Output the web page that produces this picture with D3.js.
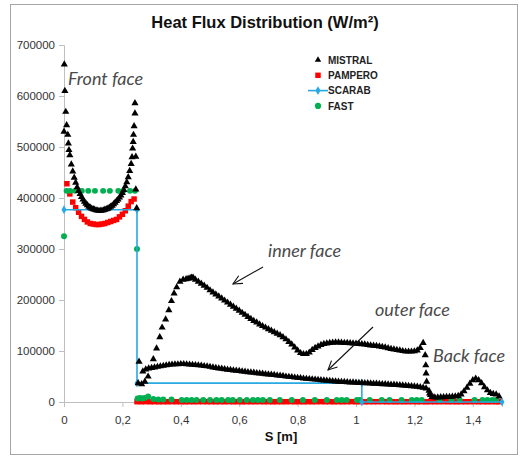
<!DOCTYPE html>
<html>
<head>
<meta charset="utf-8">
<script src="https://cdn.jsdelivr.net/npm/d3@7"></script>
<style>
  body { margin: 0; background: #fff; }
  svg { display: block; }
  .tick-label { font-family: "Liberation Sans", Arial, sans-serif; font-size: 11.5px; fill: #333; }
  .note { font-family: "Lato", "DejaVu Sans", sans-serif; font-style: italic; font-weight: 400; font-size: 18px; fill: #4a4a4a; }
  .legend-text { font-family: "Liberation Sans", Arial, sans-serif; font-size: 10px; font-weight: bold; fill: #222; }
</style>
</head>
<body>
<svg id="chart" width="520" height="457"></svg>
<script>
// MISTRAL, split by face  [S (m), heat flux (W/m2)]
const mistralFront = [
  [0.000, 530000], [0.001, 662000], [0.003, 610000], [0.006, 569000], [0.009, 543000],
  [0.013, 524000], [0.015, 507000], [0.017, 494000], [0.020, 484000], [0.025, 466000],
  [0.030, 452000], [0.035, 440000], [0.040, 430000], [0.045, 421000], [0.050, 414000],
  [0.055, 408000], [0.060, 402000], [0.065, 397000], [0.070, 393000], [0.075, 389000],
  [0.080, 386000], [0.085, 383000], [0.090, 381000], [0.095, 379000], [0.100, 378000],
  [0.105, 377000], [0.110, 376000], [0.115, 375500], [0.120, 375000], [0.125, 375000],
  [0.130, 375500], [0.135, 376000], [0.140, 377000], [0.145, 378000], [0.150, 379000],
  [0.155, 381000], [0.160, 383000], [0.165, 385000], [0.170, 388000], [0.175, 391000],
  [0.180, 394000], [0.185, 397000], [0.190, 401000], [0.195, 405000], [0.200, 410000],
  [0.205, 416000], [0.210, 423000], [0.215, 431000], [0.220, 441000], [0.225, 453000],
  [0.230, 467000], [0.233, 480000], [0.235, 497000], [0.237, 510000], [0.238, 524000],
  [0.240, 541000], [0.243, 566000], [0.243, 586000], [0.246, 481000], [0.246, 417000],
  [0.249, 380000]
];

const mistralInner = [
  [0.257, 79000], [0.254, 37000], [0.266, 35000], [0.277, 40000], [0.288, 50000],
  [0.306, 84000], [0.317, 105000], [0.328, 127000], [0.336, 146000], [0.348, 162000],
  [0.359, 180000], [0.368, 198000], [0.377, 213000], [0.386, 225000], [0.397, 236000],
  [0.408, 240000], [0.418, 241000], [0.425, 242000], [0.432, 243000], [0.437, 244000],
  [0.442, 244000], [0.45, 240000], [0.46, 236000], [0.47, 232000], [0.48, 228000],
  [0.49, 224000], [0.50, 219000], [0.51, 215000], [0.52, 211000], [0.53, 207000],
  [0.54, 203000], [0.55, 199000], [0.56, 195000], [0.57, 191000], [0.58, 187000],
  [0.59, 183000], [0.60, 179000], [0.61, 175000], [0.62, 171000], [0.63, 167000],
  [0.64, 163000], [0.65, 159000], [0.66, 156000], [0.67, 152000], [0.68, 149000],
  [0.69, 146000], [0.70, 143000], [0.71, 140000], [0.72, 137000], [0.73, 134000],
  [0.74, 131000], [0.75, 127000], [0.76, 123000], [0.77, 118000], [0.78, 113000],
  [0.79, 107000], [0.80, 101000], [0.81, 96000], [0.82, 94000], [0.83, 94000],
  [0.84, 97000], [0.85, 102000], [0.86, 106000], [0.87, 109000], [0.88, 112000],
  [0.89, 114000], [0.90, 115000], [0.91, 116000], [0.92, 116500], [0.93, 117000],
  [0.94, 117000], [0.95, 116500], [0.96, 116000], [0.97, 116000], [0.98, 115500],
  [0.99, 115000], [1.00, 114500], [1.01, 114000], [1.02, 113500], [1.03, 113000],
  [1.04, 112000], [1.05, 111000], [1.06, 110500], [1.07, 110000], [1.08, 109000],
  [1.09, 108000], [1.10, 107000], [1.11, 105500], [1.12, 104000], [1.13, 103000],
  [1.14, 102000], [1.15, 101000], [1.16, 100000], [1.17, 99000], [1.18, 99000],
  [1.19, 99000], [1.20, 99500], [1.21, 101000], [1.22, 106000], [1.23, 116000]
];

const mistralOuter = [
  [0.27, 60000], [0.28, 64000], [0.29, 66000], [0.30, 67000], [0.31, 68000],
  [0.32, 69000], [0.33, 70000], [0.34, 71000], [0.35, 72000], [0.36, 73000],
  [0.37, 73500], [0.38, 74000], [0.39, 74000], [0.40, 74500], [0.41, 74500],
  [0.42, 74000], [0.43, 73500], [0.44, 73000], [0.45, 72500], [0.46, 72000],
  [0.47, 71500], [0.48, 70500], [0.49, 70000], [0.50, 69000], [0.51, 68000],
  [0.52, 67000], [0.53, 66000], [0.54, 65500], [0.55, 64500], [0.56, 63500],
  [0.57, 63000], [0.58, 62000], [0.59, 61500], [0.60, 61000], [0.61, 60000],
  [0.62, 59500], [0.63, 58500], [0.64, 58000], [0.65, 57500], [0.66, 56500],
  [0.67, 56000], [0.68, 55500], [0.69, 54500], [0.70, 54000], [0.71, 53500],
  [0.72, 53000], [0.73, 52000], [0.74, 51500], [0.75, 51000], [0.76, 50000],
  [0.77, 49500], [0.78, 49000], [0.79, 48000], [0.80, 47500], [0.81, 47000],
  [0.82, 46000], [0.83, 45500], [0.84, 45000], [0.85, 44500], [0.86, 44000],
  [0.87, 43500], [0.88, 43000], [0.89, 42500], [0.90, 42000], [0.91, 41500],
  [0.92, 41000], [0.93, 40500], [0.94, 40000], [0.95, 39500], [0.96, 39500],
  [0.97, 39000], [0.98, 38500], [0.99, 38500], [1.00, 38000], [1.01, 37500],
  [1.02, 37500], [1.03, 37000], [1.04, 37000], [1.05, 36500], [1.06, 36000],
  [1.07, 36000], [1.08, 35500], [1.09, 35000], [1.10, 35000], [1.11, 34500],
  [1.12, 34000], [1.13, 34000], [1.14, 33500], [1.15, 33000], [1.16, 32500],
  [1.17, 32000], [1.18, 31500], [1.19, 31000], [1.20, 30500], [1.21, 30000],
  [1.22, 29000], [1.23, 28000], [1.24, 26500], [1.25, 22000], [1.255, 14000],
  [1.26, 10000]
];

const mistralBack = [
  [1.237, 92000], [1.239, 72000], [1.240, 56000], [1.242, 40000], [1.252, 17000],
  [1.263, 10000], [1.27, 9000], [1.28, 9000], [1.29, 9500], [1.30, 9500],
  [1.31, 10000], [1.32, 10000], [1.33, 10500], [1.34, 11000], [1.35, 12000],
  [1.36, 15000], [1.37, 21000], [1.38, 28000], [1.39, 36000], [1.40, 43000],
  [1.41, 46000], [1.42, 43000], [1.43, 37000], [1.44, 29000], [1.45, 23000],
  [1.46, 18000], [1.47, 16000], [1.48, 15000], [1.49, 11000]
];

const pampero = [
  [0.01, 428000], [0.02, 408000], [0.03, 392000], [0.04, 381000], [0.05, 372000],
  [0.06, 364000], [0.07, 358000], [0.08, 353000], [0.09, 350000], [0.10, 349000],
  [0.11, 348000], [0.12, 348000], [0.13, 349000], [0.14, 350000], [0.15, 352000],
  [0.16, 354000], [0.17, 356000], [0.18, 358000], [0.19, 363000], [0.20, 368000],
  [0.21, 375000], [0.22, 384000], [0.23, 393000], [0.24, 398000],
  [0.25, 600], [0.265, 500], [0.28, 700], [0.295, 500], [0.31, 600], [0.325, 400],
  [0.34, 600], [0.355, 500], [0.37, 700], [0.385, 500], [0.40, 600], [0.415, 400],
  [0.43, 600], [0.445, 500], [0.46, 600], [0.475, 700], [0.49, 500], [0.505, 600],
  [0.52, 400], [0.535, 600], [0.55, 500], [0.565, 700], [0.58, 500], [0.595, 600],
  [0.61, 400], [0.625, 600], [0.64, 500], [0.655, 600], [0.67, 700], [0.685, 500],
  [0.70, 600], [0.715, 400], [0.73, 600], [0.745, 500], [0.76, 600], [0.775, 700],
  [0.79, 500], [0.805, 600], [0.82, 400], [0.835, 600], [0.85, 500], [0.865, 600],
  [0.88, 700], [0.895, 500], [0.91, 600], [0.925, 400], [0.94, 600], [0.955, 500],
  [0.97, 600], [0.985, 700], [1.00, 500], [1.015, 600], [1.03, 400], [1.045, 600],
  [1.06, 500], [1.075, 600], [1.09, 700], [1.105, 500], [1.12, 600], [1.135, 400],
  [1.15, 600], [1.165, 500], [1.18, 600], [1.195, 700], [1.21, 500], [1.225, 600],
  [1.24, 400], [1.255, 600], [1.27, 500], [1.285, 600], [1.30, 700], [1.315, 500],
  [1.33, 600], [1.345, 400], [1.36, 600], [1.375, 500], [1.39, 600], [1.405, 700],
  [1.42, 500], [1.435, 600], [1.45, 400], [1.465, 600], [1.48, 500], [1.49, 600]
];

const scarab = [
  [0.00, 377000], [0.25, 377000], [0.25, 37000], [1.02, 37000], [1.02, 0], [1.50, 0]
];

const fast = [
  [0.000, 325000], [0.009, 414000], [0.021, 414000], [0.038, 414000], [0.061, 414000],
  [0.083, 414000], [0.106, 414000], [0.134, 414000], [0.157, 414000], [0.186, 414000],
  [0.203, 414000], [0.226, 414000], [0.243, 414000], [0.250, 300000],
  [0.252, 7000], [0.260, 8000], [0.268, 7000], [0.276, 8000], [0.288, 11000],
  [0.306, 6000], [0.323, 5000], [0.340, 5000], [0.368, 5000], [0.403, 4000],
  [0.420, 4000], [0.437, 4000], [0.454, 4000], [0.477, 4000], [0.500, 4000],
  [0.522, 4000], [0.540, 4000], [0.562, 4000], [0.578, 4000], [0.602, 4000],
  [0.626, 4000], [0.647, 4000], [0.664, 4000], [0.681, 4000], [0.705, 4000],
  [0.739, 4000], [0.780, 4000], [0.818, 4000], [0.859, 4000], [0.900, 4000],
  [0.934, 4000], [0.951, 4000], [0.968, 4000], [1.003, 4000], [1.013, 4000],
  [1.047, 4000], [1.088, 4000], [1.115, 4000], [1.156, 4000], [1.191, 4000],
  [1.208, 4000], [1.225, 4000], [1.286, 4000], [1.327, 4000], [1.355, 4000],
  [1.406, 4000], [1.433, 4000], [1.450, 4000], [1.467, 4000], [1.480, 4000]
];

const xTicks = [0, 0.2, 0.4, 0.6, 0.8, 1, 1.2, 1.4];
const yTicks = [0, 100000, 200000, 300000, 400000, 500000, 600000, 700000];
const legendNames = ["MISTRAL", "PAMPERO", "SCARAB", "FAST"];

const colors = { mistral: "#000", pampero: "#ff0000", scarab: "#29a9e1", fast: "#00b050" };

const svg = d3.select("#chart");

// outer frame
svg.append("rect")
    .attr("x", 10.5).attr("y", 4.5)
    .attr("width", 507).attr("height", 450)
    .attr("fill", "#fff")
    .attr("stroke", "#a6a6a6");

const x = d3.scaleLinear().domain([0, 1.5]).range([64, 502]);
const y = d3.scaleLinear().domain([0, 700000]).range([402, 45]);

const commaLocale = d3.formatLocale({ decimal: ",", thousands: "", grouping: [3], currency: ["", ""] });
const fmtX = commaLocale.format("~g");

const xAxis = svg.append("g")
    .attr("transform", "translate(0," + y(0) + ")")
    .call(d3.axisBottom(x).tickValues(xTicks).tickFormat(fmtX).tickSize(5).tickPadding(9));

const yAxis = svg.append("g")
    .attr("transform", "translate(" + x(0) + ",0)")
    .call(d3.axisLeft(y).tickValues(yTicks).tickFormat(d3.format("d")).tickSize(5).tickPadding(4));

[xAxis, yAxis].forEach(function(ax) {
    ax.select(".domain").attr("stroke", "#bfbfbf");
    ax.selectAll(".tick line").attr("stroke", "#bfbfbf");
    ax.selectAll(".tick text").attr("class", "tick-label").attr("font-size", null).attr("font-family", null);
});

// title and axis label
svg.append("text")
    .attr("x", 265).attr("y", 28)
    .attr("text-anchor", "middle")
    .attr("font-family", "'Liberation Sans', Arial, sans-serif")
    .attr("font-size", 16.5)
    .attr("font-weight", "bold")
    .attr("fill", "#111")
    .text("Heat Flux Distribution (W/m²)");

svg.append("text")
    .attr("x", 281).attr("y", 441)
    .attr("text-anchor", "middle")
    .attr("font-family", "'Liberation Sans', Arial, sans-serif")
    .attr("font-size", 13)
    .attr("font-weight", "bold")
    .attr("fill", "#111")
    .text("S [m]");

const plot = svg.append("g");

function drawPoints(data, symbolType, size, color) {
    plot.append("g")
        .selectAll("path")
        .data(data)
        .join("path")
        .attr("transform", function(d) { return "translate(" + x(d[0]) + "," + y(d[1]) + ")"; })
        .attr("d", d3.symbol().type(symbolType).size(size))
        .attr("fill", color);
}

// PAMPERO
drawPoints(pampero, d3.symbolSquare, 30, colors.pampero);

// FAST
drawPoints(fast, d3.symbolCircle, 28, colors.fast);

// SCARAB
plot.append("path")
    .datum(scarab)
    .attr("fill", "none")
    .attr("stroke", colors.scarab)
    .attr("stroke-width", 1.6)
    .attr("d", d3.line().x(function(d) { return x(d[0]); }).y(function(d) { return y(d[1]); }));
drawPoints(scarab, d3.symbolDiamond, 22, colors.scarab);

// MISTRAL
[mistralFront, mistralInner, mistralOuter, mistralBack].forEach(function(face) {
    drawPoints(face, d3.symbolTriangle, 22, colors.mistral);
});

// legend
const legend = svg.append("g").attr("transform", "translate(318,60)");
legendNames.forEach(function(name, i) {
    const row = legend.append("g").attr("transform", "translate(0," + (i * 15.3) + ")");
    if (name === "MISTRAL") {
        row.append("path").attr("d", d3.symbol().type(d3.symbolTriangle).size(18)).attr("fill", colors.mistral);
    } else if (name === "PAMPERO") {
        row.append("path").attr("d", d3.symbol().type(d3.symbolSquare).size(30)).attr("fill", colors.pampero);
    } else if (name === "SCARAB") {
        row.append("line").attr("x1", -10).attr("x2", 10).attr("stroke", colors.scarab).attr("stroke-width", 1.6);
        row.append("path").attr("d", d3.symbol().type(d3.symbolDiamond).size(22)).attr("fill", colors.scarab);
    } else {
        row.append("path").attr("d", d3.symbol().type(d3.symbolCircle).size(30)).attr("fill", colors.fast);
    }
    row.append("text")
        .attr("class", "legend-text")
        .attr("x", 10).attr("y", 3.7)
        .text(name);
});

// annotations
svg.append("text").attr("class", "note").attr("x", 68).attr("y", 85).text("Front face");
svg.append("text").attr("class", "note").attr("x", 268).attr("y", 257).text("inner face");
svg.append("text").attr("class", "note").attr("x", 375).attr("y", 316).text("outer face");
svg.append("text").attr("class", "note").attr("x", 433).attr("y", 362).text("Back face");

function drawArrow(x1, y1, x2, y2) {
    const angle = Math.atan2(y2 - y1, x2 - x1);
    const len = 10;
    const spread = 0.45;
    const g = svg.append("g").attr("stroke", "#111").attr("stroke-width", 1.1).attr("fill", "none");
    g.append("line").attr("x1", x1).attr("y1", y1).attr("x2", x2).attr("y2", y2);
    g.append("path").attr("d",
        "M" + (x2 - len * Math.cos(angle - spread)) + "," + (y2 - len * Math.sin(angle - spread)) +
        "L" + x2 + "," + y2 +
        "L" + (x2 - len * Math.cos(angle + spread)) + "," + (y2 - len * Math.sin(angle + spread)));
}

drawArrow(263, 267, 233, 284);
drawArrow(373, 327, 328, 370);
</script>
</body>
</html>
